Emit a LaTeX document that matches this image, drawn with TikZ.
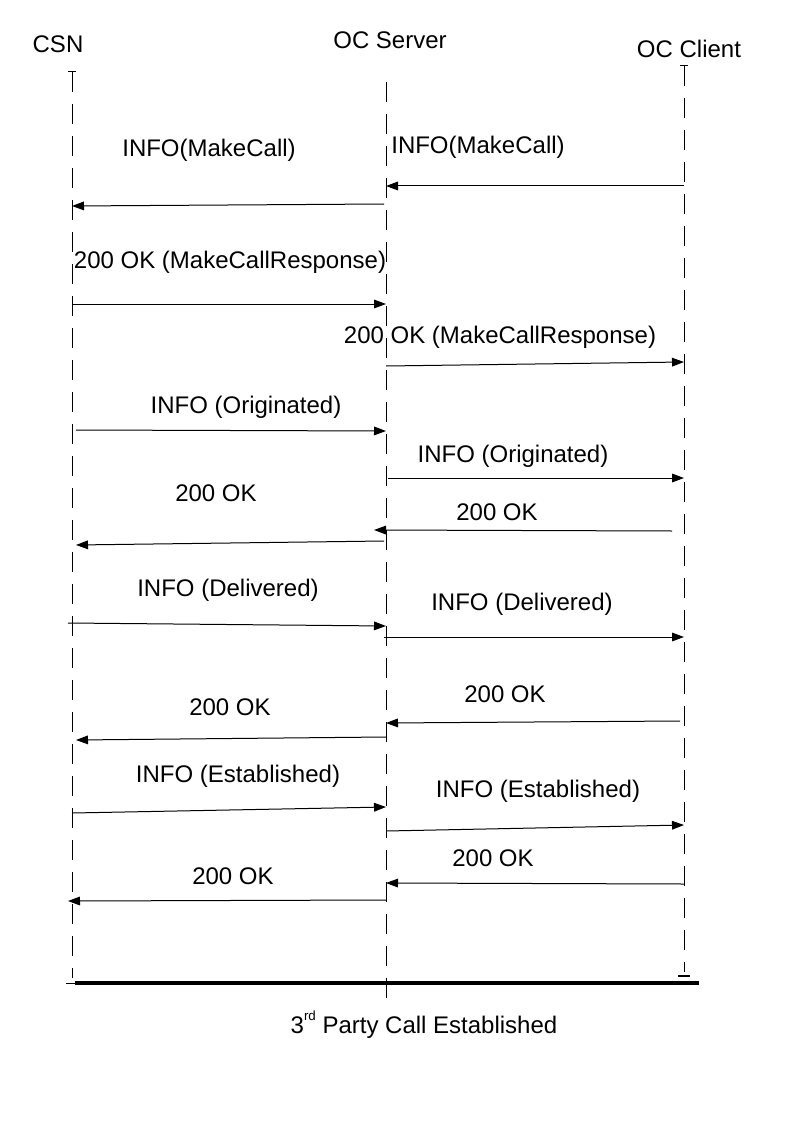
\documentclass[tikz,border=0pt]{standalone}
\usepackage{fontspec}
\setmainfont{Liberation Sans}
\usepackage{tikz}
\usetikzlibrary{arrows.meta}

\tikzset{
  msg/.style={line width=0.75pt, -{Triangle[length=9pt,width=6.5pt]}},
  life/.style={line width=0.75pt, dash pattern=on 15pt off 9pt},
  lbl/.style={font=\fontsize{18}{20}\selectfont, inner sep=0pt},
}

\begin{document}
\begin{tikzpicture}[x=0.75pt, y=-0.75pt]
\useasboundingbox (0,0) rectangle (794,1123);

\coordinate (csn) at (72, 72);
\coordinate (srv) at (386, 82);
\coordinate (cli) at (684, 66);

\node[lbl] (csnT) at (58, 44) {CSN};
\node[lbl] (srvT) at (390, 40) {OC Server};
\node[lbl] (cliT) at (689, 49) {OC Client};

% lifelines
\draw[life] (csn) -- (csn |- 0,978);
\draw[life] (srv) -- (srv |- 0,1005);
\draw[life] (cli) -- (cli |- 0,972);
\draw[line width=0.75pt] ([xshift=-3pt]csn) -- ([xshift=3pt]csn);
\draw[line width=0.75pt] ([xshift=-3pt]cli) -- ([xshift=3pt]cli);
\draw[line width=1.5pt] (678,976) -- (690,976);
\draw[line width=0.75pt] (66,983) -- (75,983);
\draw[line width=3pt] (75,983) -- (699,983);

% MakeCall
\draw[msg] (cli |- 0,186) -- (srv |- 0,186);
\node[lbl] (m1) at (478, 147) {INFO(MakeCall)};
\draw[msg] (384,204) -- (csn |- 0,206);
\node[lbl] (m2) at (209, 150) {INFO(MakeCall)};

\draw[msg] (csn |- 0,304) -- (srv |- 0,304);
\node[lbl] (m3) at (230, 262) {200 OK (MakeCallResponse)};
\draw[msg] (srv |- 0,366) -- (cli |- 0,362);
\node[lbl] (m4) at (500, 337) {200 OK (MakeCallResponse)};

% Originated
\draw[msg] (76,430) -- (srv |- 0,431);
\node[lbl] (m5) at (246, 407) {INFO (Originated)};
\draw[msg] (388,478) -- (cli |- 0,478);
\node[lbl] (m6) at (513, 456) {INFO (Originated)};
\draw[msg] (672,531) -- (374,530);
\node[lbl] (m7) at (497, 512) {200 OK};
\draw[msg] (384,541) -- (76,545);
\node[lbl] (m8) at (216, 493) {200 OK};

% Delivered
\draw[msg] (68,623) -- (srv |- 0,626);
\node[lbl] (m9) at (228, 590) {INFO (Delivered)};
\draw[msg] (384,637) -- (cli |- 0,637);
\node[lbl] (m10) at (522, 604) {INFO (Delivered)};
\draw[msg] (680,721) -- (srv |- 0,723);
\node[lbl] (m11) at (505, 694) {200 OK};
\draw[msg] (srv |- 0,737) -- (76,740);
\node[lbl] (m12) at (230, 707) {200 OK};

% Established
\draw[msg] (csn |- 0,813) -- (srv |- 0,807);
\node[lbl] (m13) at (238, 776) {INFO (Established)};
\draw[msg] (srv |- 0,831) -- (cli |- 0,825);
\node[lbl] (m14) at (538, 791) {INFO (Established)};
\draw[msg] (cli |- 0,884) -- (srv |- 0,883);
\node[lbl] (m15) at (493, 858) {200 OK};
\draw[msg] (srv |- 0,900) -- (68,901);
\node[lbl] (m16) at (233, 876) {200 OK};

\node[lbl] (done) at (424, 1025) {3\raisebox{0.55em}{\fontsize{10}{10}\selectfont rd} Party Call Established};

\end{tikzpicture}
\end{document}
